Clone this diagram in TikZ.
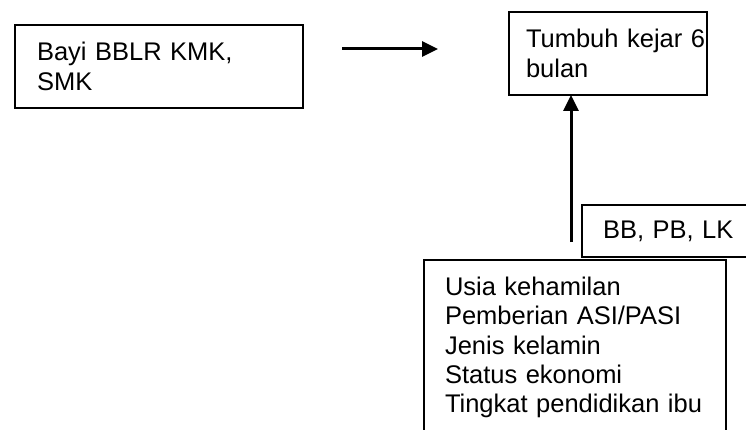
\documentclass[tikz,border=0pt]{standalone}
\usepackage{fontspec}
\setmainfont{Liberation Sans}
\usetikzlibrary{arrows.meta}
\begin{document}
\begin{tikzpicture}[x=1pt,y=-1pt,
  box/.style={draw=black, line width=2pt, rectangle, anchor=north west, align=left,
    font=\fontsize{25.5}{29.3}\selectfont, inner ysep=0pt},
  conn/.style={line width=3pt, -{Triangle[length=16pt,width=15pt]}}]
\useasboundingbox (0,0) rectangle (746,430);
\clip (0,0) rectangle (746,430);
\fill[white] (0,0) rectangle (746,430);
\node[box, minimum width=288pt, minimum height=83pt, inner xsep=22pt, text width=244pt] (bayi) at (14,24) {\mbox{Bayi BBLR KMK,}\\SMK};
\node[box, minimum width=198pt, minimum height=83pt, inner xsep=17pt, text width=164pt] (tumbuh) at (508,11) {\mbox{Tumbuh kejar 6}\\bulan};
\node[box, minimum width=200pt, minimum height=52pt, inner xsep=21pt, text width=158pt] (bb) at (581,204) {\mbox{BB, PB, LK}};
\node[box, minimum width=302pt, minimum height=175pt, inner xsep=21pt, text width=260pt] (faktor) at (423,259) {\mbox{Usia kehamilan}\\\mbox{Pemberian ASI/PASI}\\\mbox{Jenis kelamin}\\\mbox{Status ekonomi}\\\mbox{Tingkat pendidikan ibu}};
\coordinate (h1) at (342,49);
\coordinate (h2) at (438,49);
\coordinate (v1) at (571,242);
\draw[conn] (h1) -- (h2);
\draw[conn, shorten >=-1pt] (v1) -- (tumbuh.south -| v1);
\end{tikzpicture}
\end{document}
